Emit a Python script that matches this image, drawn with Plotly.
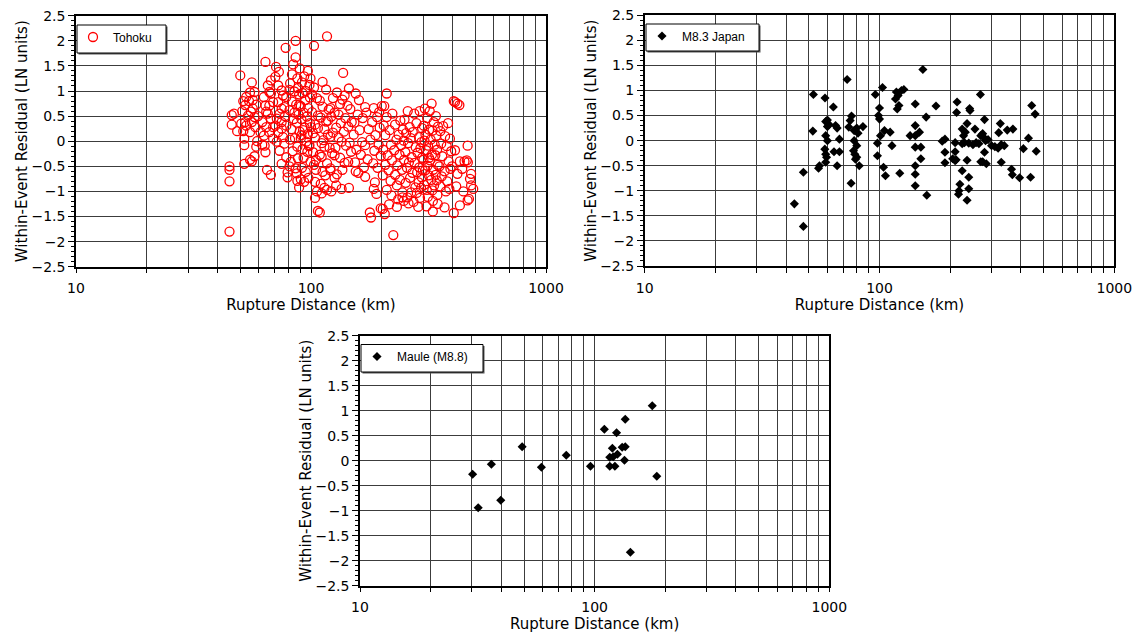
import plotly.graph_objects as go

# ---------------- Tohoku (open red circles) ----------------
tohoku_dist = [
    45, 45, 45, 45, 46, 46, 48.5, 50, 47,
    51, 51.5, 52, 51.5, 52, 50.5, 52.5, 53, 54.5, 55, 56, 55, 56, 57.5, 58, 59,
    54, 55.5, 56.5, 57.5, 53, 55, 52, 56.5, 57.5, 58.5, 59.5, 56, 58.5, 52.5,
    64, 65, 67.5, 63.5, 62, 67.5, 65.5, 66.5, 63, 64, 65.5, 67.5, 62, 64.5,
    66.5, 69, 63, 69, 64.5, 66.5, 64, 69, 61, 67.5,
    71, 70.5, 78, 79.5, 79.5, 72.5, 75, 76, 72.5, 77, 73.5, 71.5, 75, 78.5,
    72.5, 76, 71.5, 77, 73.5, 78.5, 75, 78.5, 75, 77.5, 70.5, 75, 73,
    86, 86, 84, 83, 87.5, 81.5, 88, 85, 89, 83, 86.5, 81, 88.5, 84.5, 87,
    82.5, 89.5, 85.5, 81.5, 87.5, 83.5, 88, 82, 86, 87.5, 89, 81, 87, 85, 89, 81, 89.5,
    97, 93.5, 91.5, 98.5, 95, 92, 99, 94.5, 90.5, 97.5, 93, 96, 91, 99, 94, 92.5,
    97, 90.5, 95.5, 98.5, 92, 96.5, 93, 99.5, 91.5, 95, 97.5, 93.5, 90.5, 98, 91, 99.5,
    103, 104, 107, 106, 110, 117, 112, 116, 103, 101, 106, 109, 112, 119, 101,
    107, 110, 116, 118, 104, 107, 114, 118, 102, 104, 111, 114, 120, 102, 109,
    111, 117, 103, 105, 112, 115, 121, 104, 114, 111, 117, 109, 100, 105, 113,
    137, 129, 145, 124, 136, 143, 121, 147, 131, 126, 140, 122, 134, 149, 128,
    144, 124, 138, 131, 121, 146, 135, 127, 141, 123, 148, 133, 126, 139, 144,
    121, 136, 129, 135, 128, 145, 122, 133, 139, 126,
    155, 160, 170, 185, 200, 172, 158, 191, 166, 182, 153, 196, 176, 161, 188,
    152, 179, 165, 194, 170, 156, 186, 163, 198, 174, 154, 184, 168, 192, 159,
    187, 190, 185, 178, 180, 198, 170, 155, 195,
    210, 205, 210, 222, 240, 228, 204, 246, 216, 236, 207, 231, 248, 219, 242,
    203, 226, 238, 212, 249, 221, 207, 233, 244, 214, 228, 202, 239, 218, 232,
    210, 245, 220, 235, 248, 215, 206, 224, 232, 245, 202,
    258, 290, 275, 250, 281, 263, 297, 271, 254, 288, 266, 295, 259, 279, 292,
    252, 284, 268, 297, 261, 276, 289, 256, 283, 270, 296, 264, 287, 253, 278,
    294, 267, 282, 257, 291, 273, 260, 286, 299,
    326, 305, 320, 340, 312, 333, 302, 347, 318, 329, 307, 341, 323, 304, 336,
    315, 344, 309, 327, 338, 301, 321, 346, 313, 331, 306, 339, 317, 325, 343,
    303, 334, 311, 328, 345, 314, 330, 310, 330, 346, 318,
    383, 365, 355, 372, 390, 358, 378, 395, 362, 385, 352, 370, 392, 360, 380,
    355, 375, 370, 388, 398,
    410, 420, 428, 405, 464, 410, 450, 465, 460, 480, 475, 490, 480, 464, 430,
    405, 440, 420, 445, 470, 415, 430,
]
tohoku_resid = [
    -1.8, -0.8, -0.57, -0.5, 0.33, 0.52, 0.2, 1.31, 0.55,
    0.6, 0.8, 0.05, 0.2, -0.45, 0.35, 0.72, 0.88, 0.8, 0.97, 1.17, -0.37, -0.4, -0.3, 0.28, 0.0,
    0.51, 0.59, 0.65, 0.48, 0.31, 0.18, -0.08, 0.82, 0.98, 0.73, 0.5, 0.38, -0.11, 0.38,
    1.58, -0.57, -0.67, -0.09, -0.07, 1.21, 1.11, 0.98, 0.88, 0.71, 0.55, 0.45, 0.38, 0.28,
    0.18, 0.05, 0.11, 0.78, 0.59, 0.71, -0.22, 0.28, 0.18, 0.95,
    1.48, 1.28, 1.86, -0.72, -0.62, 1.11, 1.01, 0.91, 0.78, 0.68, 0.55, 0.45, 0.38, 0.31,
    0.18, 0.08, -0.01, -0.05, -0.19, -0.32, -0.45, 0.88, 0.65, 0.5, 0.31, 0.25, 1.38,
    2.0, 1.67, 1.53, 1.33, 1.25, 1.15, 1.06, 0.99, 0.93, 0.79, 0.73, 0.62, 0.53, 0.44, 0.37,
    0.24, 0.19, 0.06, 0.03, -0.11, -0.2, -0.34, -0.41, -0.54, -0.79, -0.92, -0.5, -0.64, 0.57, 0.72, 1.02, 1.45,
    1.4, 1.29, 1.17, 1.12, 1.0, 0.96, 0.87, 0.82, 0.7, 0.66, 0.57, 0.49, 0.44, 0.36, 0.27, 0.22,
    0.14, 0.06, -0.01, -0.08, -0.16, -0.21, -0.33, -0.41, -0.53, -0.61, -0.73, -0.81, -0.76, -0.1, 0.12, 1.25,
    1.9, -1.13, -1.39, -1.0, -0.85, 2.09, 1.18, 1.03, 1.07, 0.93, 0.86, 0.81, 0.69, 0.63, 0.58,
    0.51, 0.47, 0.39, 0.41, 0.33, 0.26, 0.24, 0.13, 0.16, 0.07, -0.04, -0.11, -0.13, -0.22, -0.27,
    -0.31, -0.44, -0.47, -0.57, -0.61, -0.68, -0.58, -0.81, -0.93, -1.04, -0.97, -1.42, 0.28, -0.37, 0.02,
    1.36, 0.97, 1.05, 0.86, 0.83, 0.71, 0.66, 0.64, 0.53, 0.57, 0.46, 0.49, 0.36, 0.38, 0.27,
    0.29, 0.17, 0.19, 0.07, 0.09, -0.03, -0.01, -0.13, -0.09, -0.24, -0.21, -0.33, -0.28, -0.43, -0.41,
    -0.54, -0.57, -0.66, -0.95, -0.88, -0.93, -1.0, 0.74, 0.91, -0.73,
    0.95, 0.82, 0.68, 0.66, 0.7, 0.57, 0.53, 0.48, 0.46, 0.38, 0.37, 0.27, 0.24, 0.22, 0.12,
    0.13, 0.03, -0.02, -0.07, -0.08, -0.17, -0.19, -0.27, -0.29, -0.36, -0.42, -0.44, -0.52, -0.53, -0.63,
    -0.82, -1.05, -0.95, -1.42, -1.52, -1.34, -0.71, -0.6, 0.58,
    0.95, 0.7, 0.48, 0.55, 0.41, 0.33, 0.31, 0.23, 0.22, 0.13, 0.12, 0.03, 0.01, -0.07, -0.08,
    -0.17, -0.18, -0.27, -0.28, -0.37, -0.38, -0.47, -0.48, -0.57, -0.58, -0.67, -0.68, -0.77, -0.79, -0.88,
    -0.97, -1.02, -1.08, -1.16, -1.19, -1.26, -1.45, -1.87, -1.31, -1.12, -1.35,
    0.6, 0.6, 0.55, 0.43, 0.36, 0.28, 0.26, 0.18, 0.16, 0.08, 0.06, -0.02, -0.04, -0.12, -0.14,
    -0.22, -0.23, -0.32, -0.33, -0.42, -0.43, -0.52, -0.53, -0.62, -0.63, -0.72, -0.73, -0.82, -0.83, -0.92,
    -0.93, -1.02, -1.03, -1.12, -1.13, -1.21, -1.24, -1.31, -0.58,
    0.75, 0.65, 0.6, 0.5, 0.46, 0.38, 0.31, 0.29, 0.23, 0.21, 0.13, 0.11, 0.03, 0.01, -0.07,
    -0.09, -0.17, -0.18, -0.27, -0.28, -0.37, -0.38, -0.47, -0.49, -0.57, -0.58, -0.67, -0.68, -0.77, -0.78,
    -0.87, -0.88, -0.97, -0.98, -1.07, -1.11, -1.19, -1.3, -1.4, -1.25, -0.33,
    0.36, 0.3, 0.2, 0.1, 0.05, -0.05, -0.1, -0.2, -0.3, -0.4, -0.5, -0.6, -0.55, -0.7, -0.8,
    -0.9, -1.0, -1.32, -0.95, -0.5,
    0.78, 0.75, 0.72, 0.8, -0.09, -0.18, -0.4, -0.42, -0.38, -0.65, -0.75, -0.95, -0.88, -1.18, -1.28,
    -1.43, -0.55, -0.65, -1.0, -1.15, -0.9, -0.4,
]

# ---------------- M8.3 Japan (black diamonds) ----------------
japan_dist = [
    43.4, 47.4, 47.4, 52.3, 52, 55, 55.5, 58.6, 63.6, 59, 60, 61, 65, 66, 60,
    59, 60, 58.5, 59, 59.5, 59, 64, 67.5, 67.5, 66, 72.8, 76, 75, 74, 78,
    75.7, 78, 80, 77.5, 78.5, 80, 79, 82, 80, 81, 85, 96, 103, 98, 98,
    100, 99, 100, 105, 111, 101, 104, 106, 113, 117, 120, 118, 124, 127, 121,
    119, 122, 142, 142, 135, 142, 148, 142, 150, 142, 142, 142, 153, 174, 158,
    159, 214, 213, 242, 243, 269, 280, 327, 322, 350, 370, 431, 445, 460, 465,
    410, 365, 368, 395, 440, 330, 275, 285, 280, 225, 220, 218, 217, 240, 240,
    236, 190, 190, 205, 210, 212, 236, 270, 185, 190, 210, 225, 230, 240, 250,
    258, 265, 225, 232, 228, 236, 270, 275, 280, 290, 283, 300, 310, 320, 330,
    340, 210, 255, 150,
]
japan_resid = [
    -1.26, -1.71, -0.63, 0.92, 0.19, -0.55, -0.5, 0.85, 0.67, 0.38, 0.41, 0.32, 0.3, 0.25, 0.28,
    0.1, 0.0, -0.17, -0.27, -0.33, -0.43, -0.22, -0.22, 0.03, -0.5, 1.22, 0.49, 0.4, 0.27, 0.2,
    -0.85, 0.0, -0.1, -0.2, -0.27, -0.33, -0.37, -0.5, 0.25, 0.15, 0.28, 0.92, 1.06, -0.05, -0.3,
    0.65, 0.5, 0.43, 0.2, 0.17, 0.1, -0.53, -0.7, -0.1, 0.83, 0.9, 0.97, 1.0, 1.02, 0.7,
    0.63, -0.65, 0.73, 0.3, 0.1, 0.1, 0.17, -0.13, -0.13, -0.5, -0.67, -0.9, 1.42, 0.69, 0.47,
    -1.09, 0.77, 0.56, 0.64, 0.6, 0.92, 0.42, 0.34, 0.16, 0.21, 0.23, 0.05, 0.7, 0.53, -0.21,
    -0.16, -0.57, -0.68, -0.74, -0.73, -0.43, -0.42, -0.46, -0.23, -0.6, -0.87, -1.0, -1.07, -0.73, -0.96,
    -1.19, -0.23, -0.44, -0.36, -0.4, -0.38, -0.39, -0.42, -0.01, 0.03, -0.04, -0.06, -0.04, -0.05, -0.08,
    -0.04, -0.06, 0.23, 0.17, 0.1, 0.34, 0.1, 0.14, 0.05, 0.02, 0.0, -0.1, -0.12, -0.15, -0.08,
    -0.1, -0.22, 0.23, -0.36,
]

# ---------------- Maule M8.8 (black diamonds) ----------------
maule_dist = [
    30.2, 31.9, 36.3, 39.8, 49.1, 59.3, 75.7, 96, 110, 124, 135, 176,
    119, 131, 135, 116, 120, 125, 116, 122, 134, 184, 142,
]
maule_resid = [
    -0.27, -0.94, -0.07, -0.79, 0.28, -0.13, 0.11, -0.11, 0.63, 0.56, 0.83, 1.1,
    0.25, 0.27, 0.28, 0.07, 0.08, 0.13, -0.11, -0.11, 0.01, -0.31, -1.83,
]

# ---------------- axis tick definitions ----------------
x_tickvals = [10, 20, 30, 40, 50, 60, 70, 80, 90,
              100, 200, 300, 400, 500, 600, 700, 800, 900, 1000]
x_ticktext = ["10", "", "", "", "", "", "", "", "",
              "100", "", "", "", "", "", "", "", "", "1000"]
y_tickvals = [-2.5, -2, -1.5, -1, -0.5, 0, 0.5, 1, 1.5, 2, 2.5]
y_ticktext = ["\u22122.5", "\u22122", "\u22121.5", "\u22121", "\u22120.5",
              "0", "0.5", "1", "1.5", "2", "2.5"]

X_TITLE = "Rupture Distance (km)"
Y_TITLE = "Within-Event Residual (LN units)"

W, H = 1138, 641
TICK_FONT = dict(family="DejaVu Sans", size=14, color="black")
TITLE_FONT = dict(family="DejaVu Sans", size=15, color="black")
GRID = "#3c3c3c"

# panel frames in pixels: (left, right, top, bottom)
panels = [
    (76, 546, 15.7, 266.7),
    (644.7, 1114.3, 15.3, 266.0),
    (360, 829.3, 335.7, 585.7),
]
# legend frames in pixels: (left, right, top, bottom)
legend_boxes = [
    (77, 166, 25, 53),
    (646, 759, 24, 51),
    (361, 483, 344.5, 372),
]


def xdom(p):
    return [p[0] / W, p[1] / W]


def ydom(p):
    return [1 - p[3] / H, 1 - p[2] / H]


def xaxis_def(p, anchor):
    return dict(
        type="log", domain=xdom(p), anchor=anchor, range=[1, 3],
        tickvals=x_tickvals, ticktext=x_ticktext, tickfont=TICK_FONT,
        ticks="outside", ticklen=5, tickwidth=1, tickcolor="black",
        ticklabelstandoff=3,
        showline=True, linecolor="black", linewidth=1.5, mirror=True,
        showgrid=True, gridcolor=GRID, gridwidth=1, zeroline=False,
        title=dict(text=X_TITLE, font=TITLE_FONT, standoff=4),
        automargin=False,
    )


def yaxis_def(p, anchor):
    return dict(
        domain=ydom(p), anchor=anchor, range=[-2.5, 2.5],
        tickvals=y_tickvals, ticktext=y_ticktext, tickfont=TICK_FONT,
        ticks="outside", ticklen=6, tickwidth=1, tickcolor="black",
        minor=dict(dtick=0.1, tick0=0, ticks="outside", ticklen=3,
                   tickwidth=1, tickcolor="black", showgrid=False),
        showline=True, linecolor="black", linewidth=1.5, mirror=True,
        showgrid=True, gridcolor=GRID, gridwidth=1, zeroline=False,
        title=dict(text=Y_TITLE, font=TITLE_FONT, standoff=0),
        automargin=False,
    )


fig = go.Figure()

fig.add_trace(go.Scatter(
    x=tohoku_dist, y=tohoku_resid, mode="markers", name="Tohoku",
    marker=dict(symbol="circle-open", size=9, color="red",
                line=dict(color="red", width=1.3)),
    xaxis="x", yaxis="y", legend="legend",
))
fig.add_trace(go.Scatter(
    x=japan_dist, y=japan_resid, mode="markers", name="M8.3 Japan",
    marker=dict(symbol="diamond", size=7, color="black"),
    xaxis="x2", yaxis="y2", legend="legend2",
))
fig.add_trace(go.Scatter(
    x=maule_dist, y=maule_resid, mode="markers", name="Maule (M8.8)",
    marker=dict(symbol="diamond", size=7, color="black"),
    xaxis="x3", yaxis="y3", legend="legend3",
))

LEGEND_FONT = dict(family="Liberation Sans", size=12, color="black")


def legend_def(b):
    # transparent legend placed inside its framed box
    return dict(
        x=(b[0] - 4) / W, y=1 - (b[2] - 2.5) / H, xanchor="left", yanchor="top",
        bgcolor="rgba(0,0,0,0)", borderwidth=0, font=LEGEND_FONT,
    )


# framed legend boxes with a small drop shadow
shapes = []
for b in legend_boxes:
    shapes.append(dict(
        type="rect", xref="paper", yref="paper", layer="above",
        x0=(b[0] + 1.5) / W, x1=(b[1] + 1.5) / W,
        y0=1 - (b[3] + 1.5) / H, y1=1 - (b[2] + 1.5) / H,
        fillcolor="#555555", line=dict(width=0),
    ))
    shapes.append(dict(
        type="rect", xref="paper", yref="paper", layer="above",
        x0=b[0] / W, x1=b[1] / W, y0=1 - b[3] / H, y1=1 - b[2] / H,
        fillcolor="white", line=dict(color="black", width=1),
    ))

fig.update_layout(
    width=W, height=H,
    margin=dict(l=0, r=0, t=0, b=0),
    paper_bgcolor="white", plot_bgcolor="white",
    showlegend=True,
    xaxis=xaxis_def(panels[0], "y"),
    yaxis=yaxis_def(panels[0], "x"),
    xaxis2=xaxis_def(panels[1], "y2"),
    yaxis2=yaxis_def(panels[1], "x2"),
    xaxis3=xaxis_def(panels[2], "y3"),
    yaxis3=yaxis_def(panels[2], "x3"),
    legend=legend_def(legend_boxes[0]),
    legend2=legend_def(legend_boxes[1]),
    legend3=legend_def(legend_boxes[2]),
    shapes=shapes,
)

fig.write_html("out.html")
